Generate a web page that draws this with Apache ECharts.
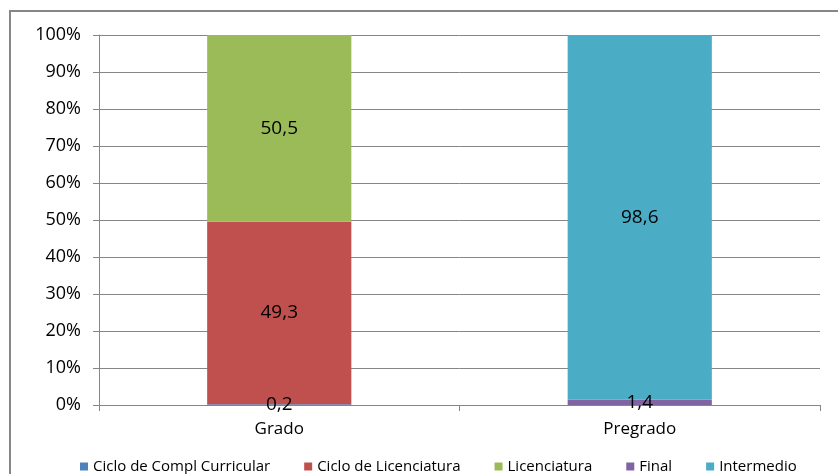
<!DOCTYPE html>
<html lang="es">
<head>
    <meta charset="UTF-8">
    <title>grado / pregrado</title>
    <script src="https://cdn.jsdelivr.net/npm/echarts@6/dist/echarts.min.js"></script>
    <style>
        html, body { margin: 0; padding: 0; background: #fff; }
        #main { width: 838px; height: 474px; }
    </style>
</head>
<body>
<div id="main"></div>
<script>
    // categorias y valores (%)
    var categories = ['Grado', 'Pregrado'];
    var seriesNames = ['Ciclo de Compl Curricular', 'Ciclo de Licenciatura', 'Licenciatura', 'Final', 'Intermedio'];
    var cicloCompl = [0.2, 0];
    var cicloLic = [49.3, 0];
    var licenciatura = [50.5, 0];
    var finalVals = [0, 1.4];
    var intermedio = [0, 98.6];
    var colors = ['#4F81BD', '#C0504D', '#9BBB59', '#8064A2', '#4BACC6'];

    var font = '"Open Sans", "Noto Sans", sans-serif';
    var myChart = echarts.init(document.getElementById('main'));

    function mkSeries(name, data, color) {
        return {
            name: name,
            type: 'bar',
            stack: 'total',
            barWidth: '40%',
            data: data,
            itemStyle: { color: color },
            label: {
                show: true,
                position: 'inside',
                color: '#000',
                fontFamily: font,
                fontSize: 19,
                formatter: function (p) {
                    return p.value ? String(p.value).replace('.', ',') : '';
                }
            }
        };
    }

    var option = {
        animation: false,
        graphic: [{
            type: 'rect',
            shape: { x: 10, y: 11, width: 840, height: 480 },
            style: { fill: 'none', stroke: '#868686', lineWidth: 2 }
        }],
        grid: { left: 99, right: 18, top: 35, bottom: 69 },
        legend: {
            data: seriesNames,
            left: 75,
            top: 454,
            itemWidth: 8,
            itemHeight: 8,
            itemGap: 34,
            icon: 'rect',
            textStyle: { fontFamily: font, fontSize: 15, color: '#000' }
        },
        xAxis: {
            type: 'category',
            data: categories,
            axisLine: { lineStyle: { color: '#868686' } },
            axisTick: { show: true, length: 6, lineStyle: { color: '#868686' } },
            axisLabel: { fontFamily: font, fontSize: 17, color: '#000', margin: 16 }
        },
        yAxis: {
            type: 'value',
            min: 0,
            max: 100,
            interval: 10,
            axisLine: { show: true, lineStyle: { color: '#868686' } },
            axisTick: { show: true, length: 6, lineStyle: { color: '#868686' } },
            axisLabel: { formatter: '{value}%', fontFamily: font, fontSize: 18, color: '#000', margin: 18 },
            splitLine: { lineStyle: { color: '#868686' } }
        },
        series: [
            mkSeries(seriesNames[0], cicloCompl, colors[0]),
            mkSeries(seriesNames[1], cicloLic, colors[1]),
            mkSeries(seriesNames[2], licenciatura, colors[2]),
            mkSeries(seriesNames[3], finalVals, colors[3]),
            mkSeries(seriesNames[4], intermedio, colors[4])
        ]
    };

    myChart.setOption(option);
</script>
</body>
</html>
